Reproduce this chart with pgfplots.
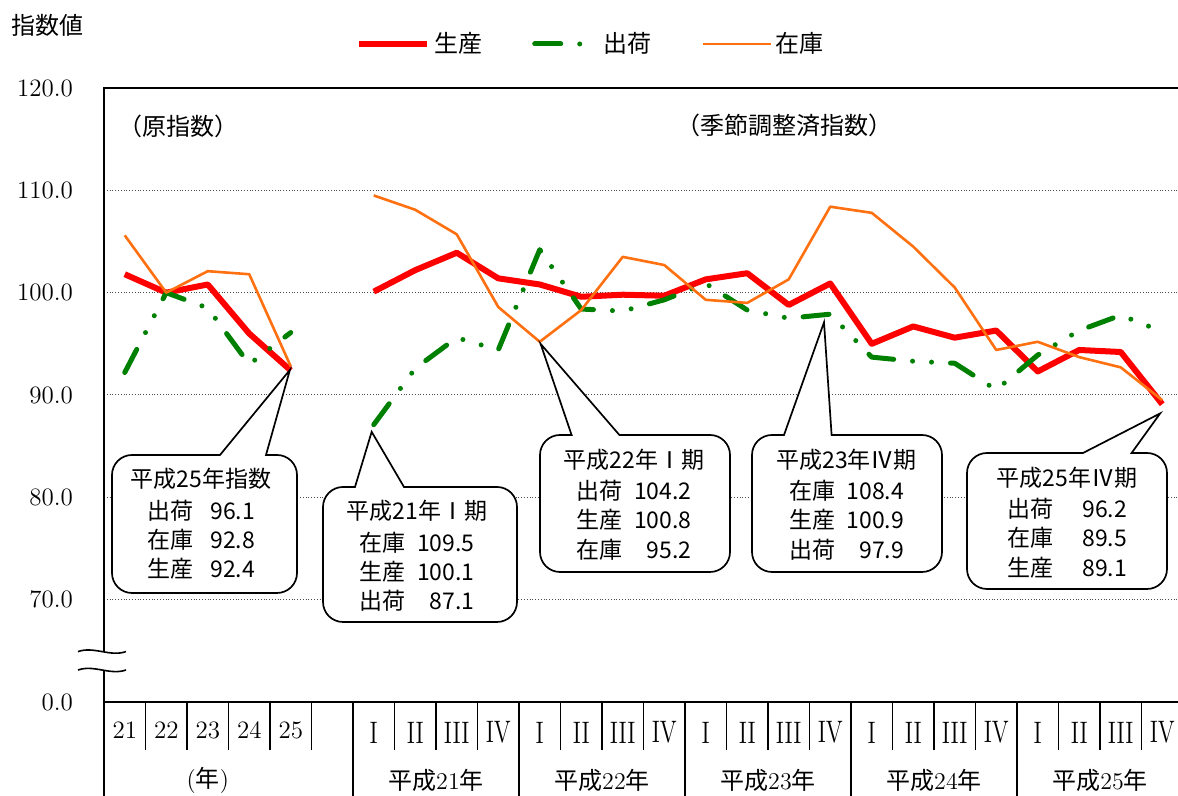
\documentclass[border=0pt]{standalone}
\usepackage{fontspec}
\usepackage{graphicx}
\usepackage{pgfplots}
\pgfplotsset{compat=1.18}
\newfontfamily\cjk{Noto Sans CJK JP}
\definecolor{exred}{RGB}{255,0,0}
\definecolor{exgreen}{RGB}{0,128,0}
\definecolor{exorange}{RGB}{255,112,16}
\newcommand{\rn}[1]{\scalebox{1}[1.35]{#1}}
\pgfplotsset{greenleg/.style={legend image code/.code={\draw[##1] (0pt,0pt) -- (31pt,0pt);}}}
% x1 y1 x2 y2 ax bx tip
\newcommand{\callout}[7]{%
  \draw[line width=0.85pt, fill=white, line join=miter]
    (#5pt,#4pt) -- (#7) -- (#6pt,#4pt) -- ({#3pt-10pt},#4pt)
    arc[start angle=90,end angle=0,radius=10pt] -- (#3pt,{#2pt+10pt})
    arc[start angle=0,end angle=-90,radius=10pt] -- ({#1pt+10pt},#2pt)
    arc[start angle=270,end angle=180,radius=10pt] -- (#1pt,{#4pt-10pt})
    arc[start angle=180,end angle=90,radius=10pt] -- cycle;}
\begin{document}
\begin{tikzpicture}
\useasboundingbox (0,0) rectangle (589pt,398pt);
\begin{axis}[
  at={(52pt,47pt)}, anchor=south west, scale only axis,
  width=537pt, height=307pt,
  xmin=0, xmax=25.88, ymin=60, ymax=120,
  axis line style={draw=none},
  xtick=\empty,
  ytick={60,70,80,90,100,110,120},
  yticklabels={0.0,70.0,80.0,90.0,100.0,110.0,120.0},
  ytick style={draw=none},
  yticklabel style={font=\fontsize{12.5}{14}\selectfont, xshift=-12pt},
  ymajorgrids, grid style={densely dotted, black!70, line width=0.5pt},
  clip=false, unbounded coords=jump,
  legend columns=3,
  legend style={draw=none, fill=none, at={(0.4544,1.0717)}, anchor=center,
    font=\cjk\fontsize{12}{14}\selectfont,
    /tikz/every even column/.append style={column sep=23pt}},
  legend image code/.code={\draw[#1] (0pt,0pt) -- (34pt,0pt);},
]
\addplot[exred, line width=3pt, line join=round] coordinates {
 (0.5,101.8) (1.5,100.0) (2.5,100.8) (3.5,96.0) (4.5,92.4) (5.5,nan)
 (6.5,100.1) (7.5,102.2) (8.5,103.9) (9.5,101.4)
 (10.5,100.8) (11.5,99.6) (12.5,99.8) (13.5,99.7)
 (14.5,101.3) (15.5,101.9) (16.5,98.8) (17.5,100.9)
 (18.5,95.0) (19.5,96.7) (20.5,95.6) (21.5,96.3)
 (22.5,92.3) (23.5,94.4) (24.5,94.2) (25.5,89.1)};
\addlegendentry{生産}
\addplot[exgreen, line width=2.5pt, line cap=round, line join=round,
  dash pattern=on 13pt off 9.5pt on 0pt off 9.5pt on 0pt off 9.5pt,
  greenleg] coordinates {
 (0.5,92.2) (1.5,100.0) (2.5,98.5) (3.5,93.0) (4.5,96.1) (5.5,nan)
 (6.5,87.1) (7.5,92.6) (8.5,95.6) (9.5,94.4)
 (10.5,104.2) (11.5,98.4) (12.5,98.2) (13.5,99.3)
 (14.5,100.9) (15.5,98.3) (16.5,97.5) (17.5,97.9)
 (18.5,93.7) (19.5,93.3) (20.5,93.1) (21.5,90.5)
 (22.5,93.9) (23.5,96.3) (24.5,97.8) (25.5,96.2)};
\addlegendentry{出荷}
\addplot[exorange, line width=1.3pt, line join=round] coordinates {
 (0.5,105.6) (1.5,100.0) (2.5,102.1) (3.5,101.8) (4.5,92.8) (5.5,nan)
 (6.5,109.5) (7.5,108.1) (8.5,105.7) (9.5,98.6)
 (10.5,95.2) (11.5,98.3) (12.5,103.5) (13.5,102.7)
 (14.5,99.3) (15.5,99.0) (16.5,101.3) (17.5,108.4)
 (18.5,107.8) (19.5,104.5) (20.5,100.5) (21.5,94.4)
 (22.5,95.2) (23.5,93.7) (24.5,92.7) (25.5,89.5)};
\addlegendentry{在庫}
\coordinate (t1) at (axis cs:4.48,92.45);
\coordinate (t2) at (axis cs:6.45,86.4);
\coordinate (t3) at (axis cs:10.52,95.0);
\coordinate (t4) at (axis cs:17.35,97.1);
\coordinate (t5) at (axis cs:25.45,88.2);
\end{axis}
% frame: left, top, bottom (no right edge)
\draw[line width=1pt] (589pt,354pt) -- (52pt,354pt) -- (52pt,0pt);
\draw[line width=1pt] (52pt,47pt) -- (589pt,47pt);
% axis break
\fill[white] (39pt,72.2pt) .. controls (47pt,75pt) and (55pt,69.4pt) .. (63pt,72.2pt)
  -- (63pt,63pt) .. controls (55pt,60.2pt) and (47pt,65.8pt) .. (39pt,63pt) -- cycle;
\draw[line width=0.8pt] (39pt,72.2pt) .. controls (47pt,75pt) and (55pt,69.4pt) .. (63pt,72.2pt);
\draw[line width=0.8pt] (39pt,63pt) .. controls (47pt,65.8pt) and (55pt,60.2pt) .. (63pt,63pt);
% bottom category table
\foreach \c in {1,2,3,4,5,7,8,9,11,12,13,15,16,17,19,20,21,23,24,25}
  \draw[line width=0.8pt] ({52pt+\c*20.75pt},47pt) -- ({52pt+\c*20.75pt},23pt);
\foreach \c in {6,10,14,18,22}
  \draw[line width=0.8pt] ({52pt+\c*20.75pt},47pt) -- ({52pt+\c*20.75pt},0pt);
\foreach \c/\t in {0/21,1/22,2/23,3/24,4/25}
  \node[font=\fontsize{12.5}{14}\selectfont] at ({52pt+(\c+0.5)*20.75pt},33pt) {\t};
\foreach \y in {6,10,14,18,22}{
  \node[font=\fontsize{11.5}{14}\selectfont] at ({52pt+(\y+0.5)*20.75pt},31.75pt) {\rn{I}};
  \node[font=\fontsize{11.5}{14}\selectfont] at ({52pt+(\y+1.5)*20.75pt},31.75pt) {\rn{II}};
  \node[font=\fontsize{11.5}{14}\selectfont] at ({52pt+(\y+2.5)*20.75pt},31.75pt) {\rn{III}};
  \node[font=\fontsize{11.5}{14}\selectfont] at ({52pt+(\y+3.5)*20.75pt},31.75pt) {\rn{IV}};
}
\node[font=\fontsize{12}{14}\selectfont] at ({52pt+2.5*20.75pt},8pt) {({\cjk 年})};
\foreach \y/\t in {6/21,10/22,14/23,18/24,22/25}
  \node[font=\fontsize{12}{14}\selectfont] at ({52pt+(\y+2)*20.75pt},8pt) {{\cjk 平成}\t{\cjk 年}};
% titles
\node[font=\cjk\fontsize{12}{14}\selectfont] at (23.5pt,385.5pt) {指数値};
\node[font=\cjk\fontsize{12}{14}\selectfont] at (89pt,335pt) {（原指数）};
\node[font=\cjk\fontsize{12}{14}\selectfont] at (392.25pt,335.5pt) {（季節調整済指数）};
% callouts
\callout{56}{101.5}{148.5}{170.5}{110}{133}{t1}
\callout{161.5}{87}{258.5}{154.5}{177.5}{202}{t2}
\callout{270}{112}{365}{180.5}{285.8}{309.7}{t3}
\callout{376}{112}{471}{180.5}{392}{415.8}{t4}
\callout{483.5}{103.5}{583.5}{171.5}{541.5}{565.8}{t5}
\begin{scope}[every node/.style={font=\cjk\fontsize{11.5}{14.6}\selectfont, align=center, inner sep=0pt}]
\node at (100.5pt,136pt) {平成25年指数\\[1pt]
  \makebox[54pt]{出荷\hfill 96.1}\\ \makebox[54pt]{在庫\hfill 92.8}\\ \makebox[54pt]{生産\hfill 92.4}};
\node at (208.5pt,120pt) {平成21年Ⅰ期\\[1pt]
  \makebox[57.5pt]{在庫\hfill 109.5}\\ \makebox[57.5pt]{生産\hfill 100.1}\\ \makebox[57.5pt]{出荷\hfill 87.1}};
\node at (317pt,145.75pt) {平成22年Ⅰ期\\[1pt]
  \makebox[57.5pt]{出荷\hfill 104.2}\\ \makebox[57.5pt]{生産\hfill 100.8}\\ \makebox[57.5pt]{在庫\hfill 95.2}};
\node at (423.25pt,145.75pt) {平成23年Ⅳ期\\[1pt]
  \makebox[57.5pt]{在庫\hfill 108.4}\\ \makebox[57.5pt]{生産\hfill 100.9}\\ \makebox[57.5pt]{出荷\hfill 97.9}};
\node at (533.5pt,136.75pt) {平成25年Ⅳ期\\[1pt]
  \makebox[60pt]{出荷\hfill 96.2}\\ \makebox[60pt]{在庫\hfill 89.5}\\ \makebox[60pt]{生産\hfill 89.1}};
\end{scope}
\end{tikzpicture}
\end{document}
